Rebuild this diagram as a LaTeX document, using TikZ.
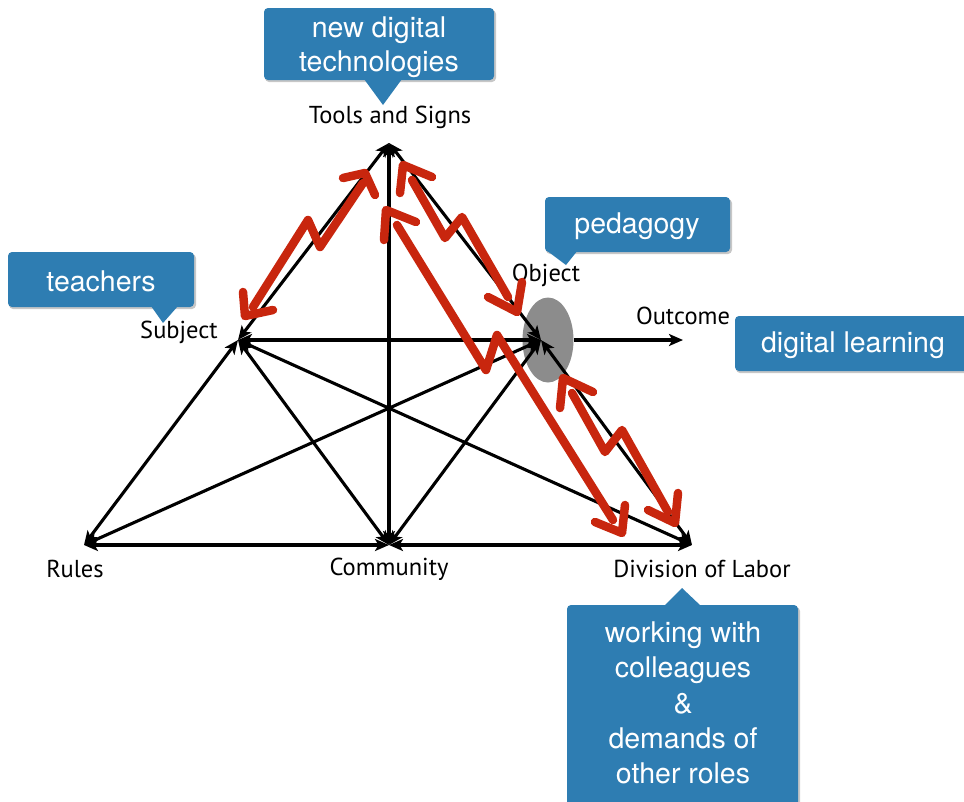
\documentclass[tikz,border=0pt]{standalone}
\usepackage{fontspec}
\setmainfont{PT Sans}
\newfontfamily\calloutfont{TeX Gyre Heros}
\usetikzlibrary{arrows.meta,shapes.geometric}
\definecolor{calloutblue}{RGB}{46,125,178}
\definecolor{penred}{RGB}{200,38,14}
\definecolor{objgray}{RGB}{140,140,140}

\tikzset{
  label text/.style={font=\fontsize{24.5}{29}\selectfont, text=black, inner sep=0pt},
  callout text/.style={font=\calloutfont\fontsize{28.5}{34}\selectfont, text=white, align=center, inner sep=0pt},
  callout shadow/.style={fill=black, opacity=0.22},
  callout body/.style={fill=calloutblue},
  link/.style={line width=3.1pt, {Stealth[length=14pt,width=12pt,inset=3.5pt]}-{Stealth[length=14pt,width=12pt,inset=3.5pt]}},
  onelink/.style={line width=3.1pt, -{Stealth[length=14pt,width=12pt,inset=3.5pt]}},
  pen/.style={draw=penred, line width=8.5pt, line cap=round, line join=round},
}

\begin{document}
\begin{tikzpicture}[x=1pt,y=-1pt]
\useasboundingbox (0,0) rectangle (964,801);
\fill[white] (0,0) rectangle (964,801);

% corner points of the activity system
\coordinate (T) at (389,143);
\coordinate (S) at (238,340);
\coordinate (O) at (541,340);
\coordinate (R) at (84,545);
\coordinate (C) at (389,545);
\coordinate (D) at (692,545);
\coordinate (outc) at (683,340);

% object ellipse
\node[ellipse, fill=objgray, minimum width=51pt, minimum height=85pt, inner sep=0pt] (obj) at (548,340) {};

% black connectors
\draw[link] (T) -- (S);
\draw[link] (T) -- (C);
\draw[link] (T) -- (O);
\draw[link] (S) -- (O);
\draw[link] (S) -- (R);
\draw[link] (S) -- (C);
\draw[link] (S) -- (D);
\draw[link] (O) -- (R);
\draw[link] (O) -- (C);
\draw[link] (O) -- (D);
\draw[link] (R) -- (C);
\draw[link] (C) -- (D);
\draw[onelink] (obj.east) -- (outc);

% labels
\node[label text] (lTools) at (390,117) {Tools and Signs};
\node[label text] (lSubject) at (179,332) {Subject};
\node[label text] (lObject) at (546,275) {Object};
\node[label text] (lOutcome) at (683,316) {Outcome};
\node[label text] (lRules) at (75,569) {Rules};
\node[label text] (lCommunity) at (389,569) {Community};
\node[label text] (lDivision) at (702,569) {Division of Labor};

% red hand-drawn tension arrows
\draw[pen] (343,178) -- (365,173) -- (375,195);
\draw[pen] (363,183) -- (320,247) -- (308,220) -- (253,307);
\draw[pen] (243,292) -- (245,316) -- (273,310);

\draw[pen] (400,193) -- (403,165) -- (432,177);
\draw[pen] (412,180) -- (445,238) -- (462,217) -- (508,297);
\draw[pen] (488,297) -- (517,312) -- (522,282);

\draw[pen] (384,240) -- (386,210) -- (416,222);
\draw[pen] (397,225) -- (486,370) -- (497,335) -- (613,520);
\draw[pen] (595,522) -- (622,533) -- (625,505);

\draw[pen] (560,408) -- (563,378) -- (593,392);
\draw[pen] (572,393) -- (605,452) -- (622,430) -- (668,512);
\draw[pen] (648,510) -- (675,523) -- (678,493);

% callouts
\fill[callout shadow, rounded corners=4pt] (265,10) rectangle (496,82);
\fill[callout body, rounded corners=4pt] (264,8) rectangle (494,80);
\fill[callout body] (364,79) -- (383,105) -- (402,79) -- cycle;
\node[callout text] (cTools) at (379,47) {new digital\\technologies};

\fill[callout shadow, rounded corners=4pt] (546,199) rectangle (732,254);
\fill[callout body, rounded corners=4pt] (545,197) rectangle (730,252);
\fill[callout body] (546,250) -- (566,265) -- (578,250) -- cycle;
\node[callout text] (cPedagogy) at (637,226) {pedagogy};

\fill[callout shadow, rounded corners=4pt] (9,254) rectangle (196,309);
\fill[callout body, rounded corners=4pt] (8,252) rectangle (194,307);
\fill[callout body] (151,306) -- (163,323) -- (178,306) -- cycle;
\node[callout text] (cTeachers) at (101,281) {teachers};

\fill[callout shadow, rounded corners=4pt] (736,318) rectangle (975,373);
\fill[callout body, rounded corners=4pt] (735,316) rectangle (975,371);
\node[callout text] (cLearning) at (853,345) {digital learning};

\fill[callout shadow, rounded corners=4pt] (568,607) rectangle (800,820);
\fill[callout body, rounded corners=4pt] (567,605) rectangle (798,820);
\fill[callout body] (664,606) -- (682,588) -- (701,606) -- cycle;
\node[callout text, font=\calloutfont\fontsize{28.5}{35.2}\selectfont] (cLabor) at (683,703) {working with\\colleagues\\\&\\demands of\\other roles};
\end{tikzpicture}
\end{document}
